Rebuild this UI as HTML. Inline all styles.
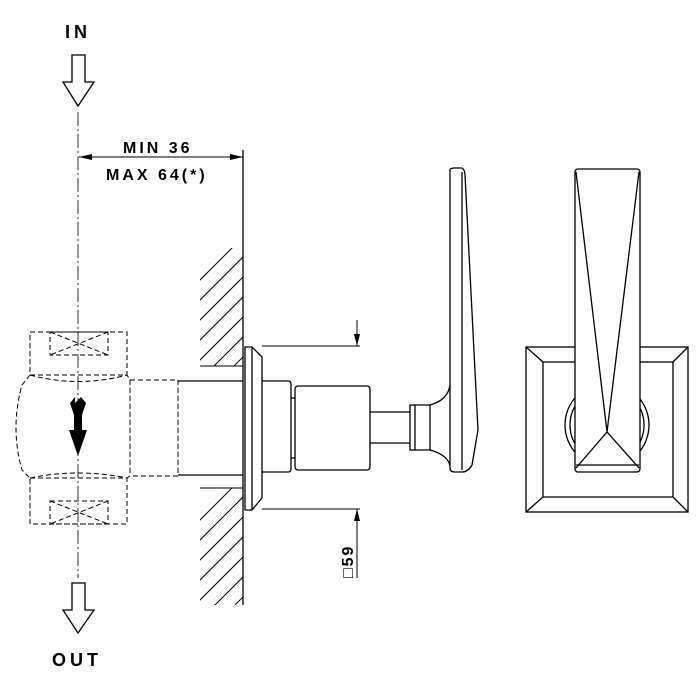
<!DOCTYPE html>
<html><head><style>body{margin:0;background:#fff}svg{display:block}</style></head><body>
<svg width="700" height="700" viewBox="0 0 700 700" xmlns="http://www.w3.org/2000/svg">
<defs>
<clipPath id="h1"><rect x="200" y="248" width="43" height="118"/></clipPath>
<clipPath id="h2"><rect x="200" y="488" width="43" height="117"/></clipPath>
</defs>
<g fill="none" stroke="#000" stroke-width="1.3">
<path d="M72 55 H85 V82 H94 L78 106 L63 82 H72 Z"/>
<path d="M72 583 H85 V610 H94 L78 633 L63 610 H72 Z"/>
<line x1="78" y1="112" x2="78" y2="578" stroke-dasharray="14 3 2 3" stroke-width="0.8"/>
<line x1="243" y1="150" x2="243" y2="605"/>
<line x1="79" y1="157" x2="243" y2="157" stroke-width="1"/>
<g clip-path="url(#h1)" stroke-width="1">
<line x1="180" y1="300" x2="260" y2="220"/><line x1="180" y1="320" x2="260" y2="240"/><line x1="180" y1="340" x2="260" y2="260"/><line x1="180" y1="360" x2="260" y2="280"/><line x1="180" y1="380" x2="260" y2="300"/><line x1="180" y1="400" x2="260" y2="320"/><line x1="180" y1="420" x2="260" y2="340"/><line x1="180" y1="440" x2="260" y2="360"/>
</g>
<line x1="200" y1="366" x2="243" y2="366" stroke-width="1"/>
<line x1="200" y1="488" x2="243" y2="488" stroke-width="1"/>
<g clip-path="url(#h2)" stroke-width="1">
<line x1="180" y1="540" x2="260" y2="460"/><line x1="180" y1="560" x2="260" y2="480"/><line x1="180" y1="580" x2="260" y2="500"/><line x1="180" y1="600" x2="260" y2="520"/><line x1="180" y1="620" x2="260" y2="540"/><line x1="180" y1="640" x2="260" y2="560"/><line x1="180" y1="660" x2="260" y2="580"/><line x1="180" y1="680" x2="260" y2="600"/>
</g>
<g stroke-dasharray="5 3" stroke-width="1">
<rect x="30" y="332" width="97" height="43"/>
<rect x="50" y="332" width="58" height="23"/>
<path d="M50 332 L108 355 M108 332 L50 355"/>
<rect x="30" y="478" width="97" height="46"/>
<rect x="50" y="501" width="58" height="23"/>
<path d="M50 501 L108 524 M108 501 L50 524"/>
<path d="M30 375 Q78 388 127 375 L130 380 L130 476 L127 478 Q78 468 30 478"/>
<path d="M30 375 L22 385 Q10 428 22 470 L30 478"/>
<path d="M130 380 H178 V476 H130"/>
</g>
<path d="M178 381 H243 M178 475 H243"/>
<path d="M245 347 H252 L262 357 V498 L252 510 H245 Z"/>
<path d="M252 347 V510"/>
<path d="M262 381 H288 Q291 381 291 384 V469 Q291 472 288 472 H262"/>
<path d="M291 398 H295 M291 458 H295"/>
<rect x="295" y="386" width="75" height="84" rx="3"/>
<path d="M370 412 H410 M370 443 H410"/>
<rect x="410" y="405" width="5" height="45"/>
<path d="M415 405 H430 V450 H415"/>
<path d="M430 405 Q448 400 450 385 M430 450 Q448 455 450 466"/>
<path d="M450 170 Q450 168 455 168 H462 Q465 170 465 175 L478 430 L472 465 Q468 472 462 472 H455 Q450 472 450 468 Z"/>
<path d="M462 172 L462 470"/>
<path d="M262 346 H360 M262 509 H360" stroke-width="1"/>
<path d="M357 320 V346 M357 509 V578" stroke-width="1"/>
<rect x="526" y="347" width="162" height="165"/>
<rect x="543" y="362" width="130" height="135"/>
<path d="M526 347 L543 362 M688 347 L673 362 M526 512 L543 497 M688 512 L673 497"/>
<circle cx="607" cy="425" r="42"/>
<circle cx="607" cy="425" r="37"/>
<rect x="575" y="169" width="65" height="303" rx="3" fill="#fff"/>
<path d="M576 172 L607 432 L639 172 M576 468 L607 432 L639 468 M576 465 H639"/>
</g>
<g fill="#000">
<path d="M79 157 L92 154 L92 160 Z"/><path d="M243 157 L230 154 L230 160 Z"/>
<path d="M357 346 L354 334 L360 334 Z"/><path d="M357 509 L354 521 L360 521 Z"/>
<path d="M70 403 L75 397 L75 403 L81 397 L86 403 L82 415 L82 430 L87 430 L78 456 L69 430 L74 430 L74 415 Z"/>
</g>
<g font-family="Liberation Sans, sans-serif" font-weight="bold" font-size="18" fill="#000" letter-spacing="4">
<text x="65" y="38">IN</text>
<text x="52" y="666">OUT</text>
<text x="123" y="153" font-size="16" letter-spacing="3">MIN 36</text>
<text x="106" y="180" font-size="16" letter-spacing="3">MAX 64(*)</text>
<text transform="translate(353,578) rotate(-90)" font-size="16" letter-spacing="2">□59</text>
</g>
</svg>
</body></html>
